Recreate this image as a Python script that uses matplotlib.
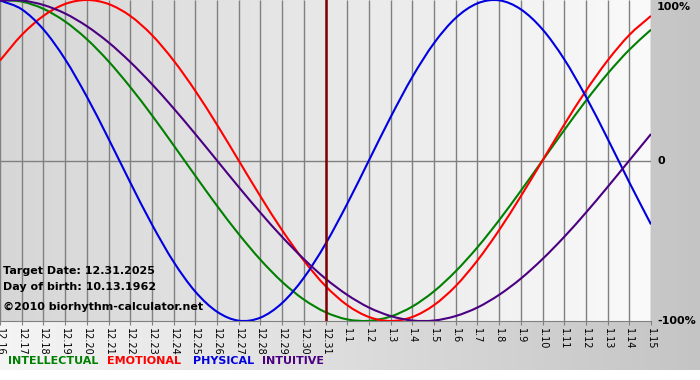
import matplotlib
matplotlib.use("Agg")
import matplotlib.pyplot as plt
import numpy as np
from matplotlib.path import Path
from matplotlib.patches import PathPatch

# day labels, 12.16.2025 .. 1.15.2026
days = ["12.%d" % d for d in range(16, 32)] + ["1.%d" % d for d in range(1, 16)]

# biorhythm values per day (-1 .. 1)
physical = [0.998, 0.942, 0.817, 0.631, 0.398, 0.136, -0.136, -0.398, -0.631, -0.817,
            -0.942, -0.998, -0.979, -0.888, -0.731, -0.520, -0.270, 0.0, 0.270, 0.520,
            0.731, 0.888, 0.979, 0.998, 0.942, 0.817, 0.631, 0.398, 0.136, -0.136, -0.398]
emotional = [0.623, 0.782, 0.901, 0.975, 1.0, 0.975, 0.901, 0.782, 0.623, 0.434,
             0.223, 0.0, -0.223, -0.434, -0.623, -0.782, -0.901, -0.975, -1.0, -0.975,
             -0.901, -0.782, -0.623, -0.434, -0.223, 0.0, 0.223, 0.434, 0.623, 0.782, 0.901]
intellectual = [0.999, 0.990, 0.945, 0.866, 0.756, 0.618, 0.458, 0.282, 0.095, -0.095,
                -0.282, -0.458, -0.618, -0.756, -0.866, -0.945, -0.990, -0.999, -0.972, -0.910,
                -0.815, -0.690, -0.541, -0.372, -0.189, 0.0, 0.189, 0.372, 0.541, 0.690, 0.815]
intuitive = [0.997, 0.997, 0.969, 0.916, 0.837, 0.736, 0.614, 0.476, 0.325, 0.165,
             0.0, -0.165, -0.325, -0.476, -0.614, -0.736, -0.837, -0.916, -0.969, -0.997,
             -0.997, -0.969, -0.916, -0.837, -0.736, -0.614, -0.476, -0.325, -0.165, 0.0, 0.165]

target_idx = days.index("12.31")

series = [
    ("INTELLECTUAL", intellectual, "#008000"),
    ("EMOTIONAL", emotional, "#ff0000"),
    ("PHYSICAL", physical, "#0000e0"),
    ("INTUITIVE", intuitive, "#4b0082"),
]

W, H = 700, 380


def fx(x):
    return x / W


def fy(y):
    return 1 - y / H


def smooth_path(xs, ys):
    # Catmull-Rom through the daily points, as cubic bezier segments
    pts = np.column_stack([xs, ys]).astype(float)
    ext = np.vstack([2 * pts[0] - pts[1], pts, 2 * pts[-1] - pts[-2]])
    verts = [pts[0]]
    codes = [Path.MOVETO]
    for i in range(1, len(ext) - 2):
        p0, p1, p2, p3 = ext[i - 1], ext[i], ext[i + 1], ext[i + 2]
        verts += [p1 + (p2 - p0) / 6, p2 - (p3 - p1) / 6, p2]
        codes += [Path.CURVE4] * 3
    return Path(verts, codes)


fig = plt.figure(figsize=(W / 100, H / 100), dpi=100)
fig.patch.set_facecolor("white")

# outer grey gradient panel
bg = fig.add_axes([0, fy(370), 1, 370 / H], zorder=0)
grad = np.linspace(0.96, 0.77, 256).reshape(1, -1)
bg.imshow(np.dstack([grad] * 3), aspect="auto", extent=(0, 1, 0, 1))
bg.set_axis_off()

# plot area
ax = fig.add_axes([0, fy(321), 651 / W, 321 / H], zorder=1)
x = np.arange(len(days))
inner = np.linspace(0.84, 0.98, 256).reshape(1, -1)
ax.imshow(np.dstack([inner] * 3), aspect="auto", extent=(0, len(days) - 1, -1, 1), zorder=0)
ax.set_xlim(0, len(days) - 1)
ax.set_ylim(-1, 1.0)

ax.vlines(x, -1, 1, color="#808080", lw=1.0, zorder=1)
ax.axhline(0, color="#808080", lw=1.0, zorder=1)

for name, vals, col in series:
    ax.add_patch(PathPatch(smooth_path(x, vals), facecolor="none", edgecolor=col,
                           lw=1.5, zorder=3, clip_on=True))

ax.axvline(target_idx, color="#800000", lw=1.8, zorder=4)

for s in ("left", "right", "top"):
    ax.spines[s].set_visible(False)
ax.spines["bottom"].set_color("#808080")
ax.set_yticks([])
ax.set_xticks(x)
ax.set_xticklabels(days, rotation=270, fontsize=7, va="top", ha="center")
ax.tick_params(axis="x", length=3, color="#808080", pad=2)

# right-hand scale labels
for lab, yy in (("100%", 7), ("0", 161), ("-100%", 321)):
    fig.text(fx(657), fy(yy), lab, fontsize=8, fontweight="bold", va="center", ha="left")

# info text inside the plot
fig.text(fx(3), fy(271), "Target Date: 12.31.2025", fontsize=8, fontweight="bold", va="center")
fig.text(fx(3), fy(287), "Day of birth: 10.13.1962", fontsize=8, fontweight="bold", va="center")
fig.text(fx(3), fy(307), "\u00a92010 biorhythm-calculator.net", fontsize=8, fontweight="bold", va="center")

# legend words
legend_x = [8, 107, 193, 262]
for (name, vals, col), lx in zip(series, legend_x):
    fig.text(fx(lx), fy(361), name, fontsize=8, fontweight="bold", color=col, va="center")

fig.savefig("out.png", dpi=100)
